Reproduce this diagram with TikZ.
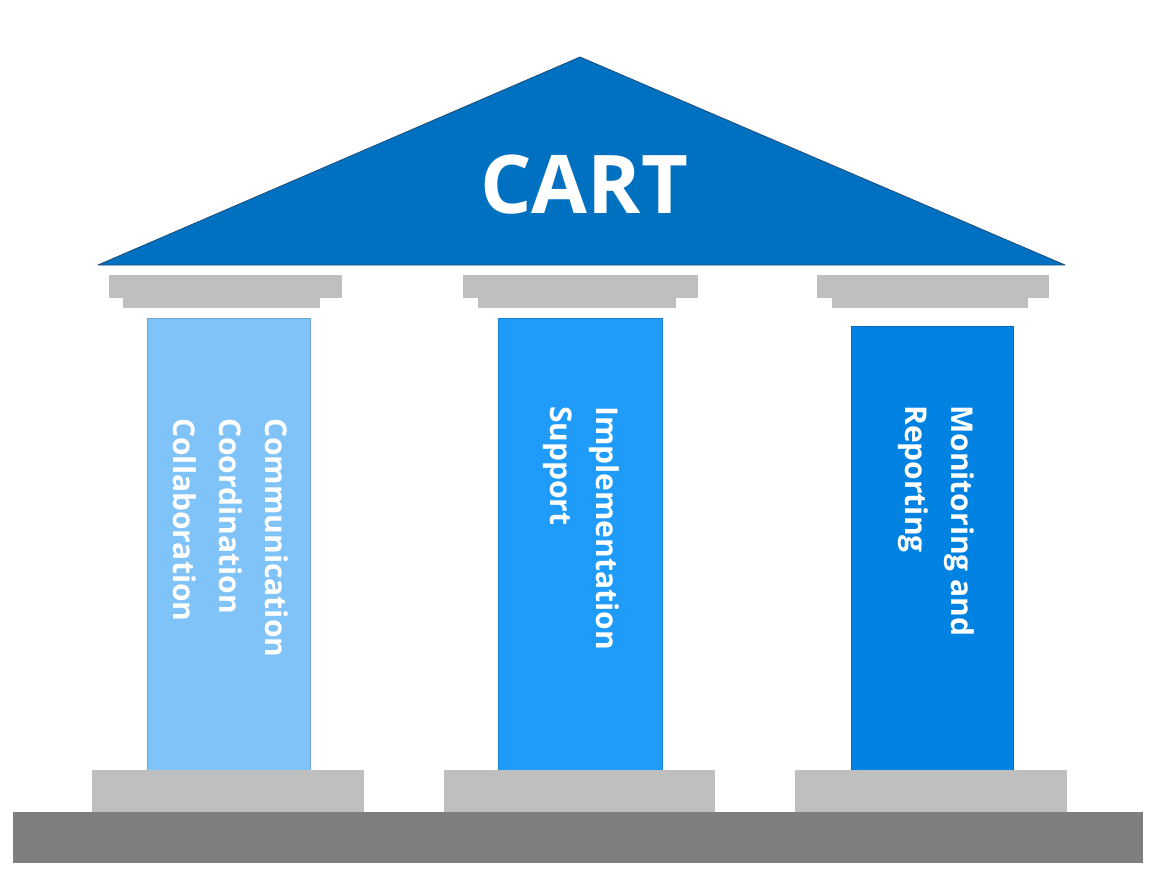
\documentclass[tikz,border=0pt]{standalone}
\usepackage{fontspec}
\setmainfont{Open Sans}
\definecolor{roofblue}{HTML}{0070C0}
\definecolor{roofedge}{HTML}{1F4E79}
\definecolor{pilA}{HTML}{80C3F8}
\definecolor{pilB}{HTML}{1F9BF9}
\definecolor{pilC}{HTML}{0082E2}
\definecolor{capgray}{HTML}{BFBFBF}
\definecolor{groundgray}{HTML}{7F7F7F}
\begin{document}
\begin{tikzpicture}[x=1pt,y=-1pt,
  capstyle/.style={fill=capgray,draw=none},
  pillar/.style={draw=#1!85!black,line width=0.8pt,fill=#1},
  ptext/.style={rotate=-90,anchor=north west,inner sep=0pt,text=white,align=left,
    font=\bfseries\fontsize{30}{46}\selectfont},
  title/.style={text=white,inner sep=0pt,font=\bfseries\fontsize{81}{81}\selectfont}]
\useasboundingbox (0,0) rectangle (1167,894);
\fill[white] (0,0) rectangle (1167,894);
% roof
\coordinate (apex) at (580,57);
\coordinate (rl) at (98,265);
\coordinate (rr) at (1065,265);
\draw[fill=roofblue,draw=roofedge,line width=0.8pt,line join=round] (rl) -- (apex) -- (rr) -- cycle;
% title
\node[title] (cart) at (584,185) {CART};
% capitals
\foreach \xa/\xb/\xc/\xd in {109/342/123/320,463/698/478/676,817/1049/832/1028}{
  \fill[capstyle] (\xa,275) rectangle (\xb,298);
  \fill[capstyle] (\xc,297) rectangle (\xd,308);
}
% pillars
\draw[pillar=pilA] (147,318) rectangle (310,770);
\draw[pillar=pilB] (498,318) rectangle (662,770);
\draw[pillar=pilC] (851,326) rectangle (1013,770);
% texts
\node[ptext] (ta) at (288,418) {Communication\\Coordination\\Collaboration};
\node[ptext] (tb) at (619,406) {Implementation\\Support};
\node[ptext] (tc) at (974,405) {Monitoring and\\Reporting};
% bases
\fill[capstyle] (92,770) rectangle (364,812);
\fill[capstyle] (444,770) rectangle (715,812);
\fill[capstyle] (795,770) rectangle (1067,812);
% ground
\fill[groundgray] (13,812) rectangle (1143,863);
\end{tikzpicture}
\end{document}
